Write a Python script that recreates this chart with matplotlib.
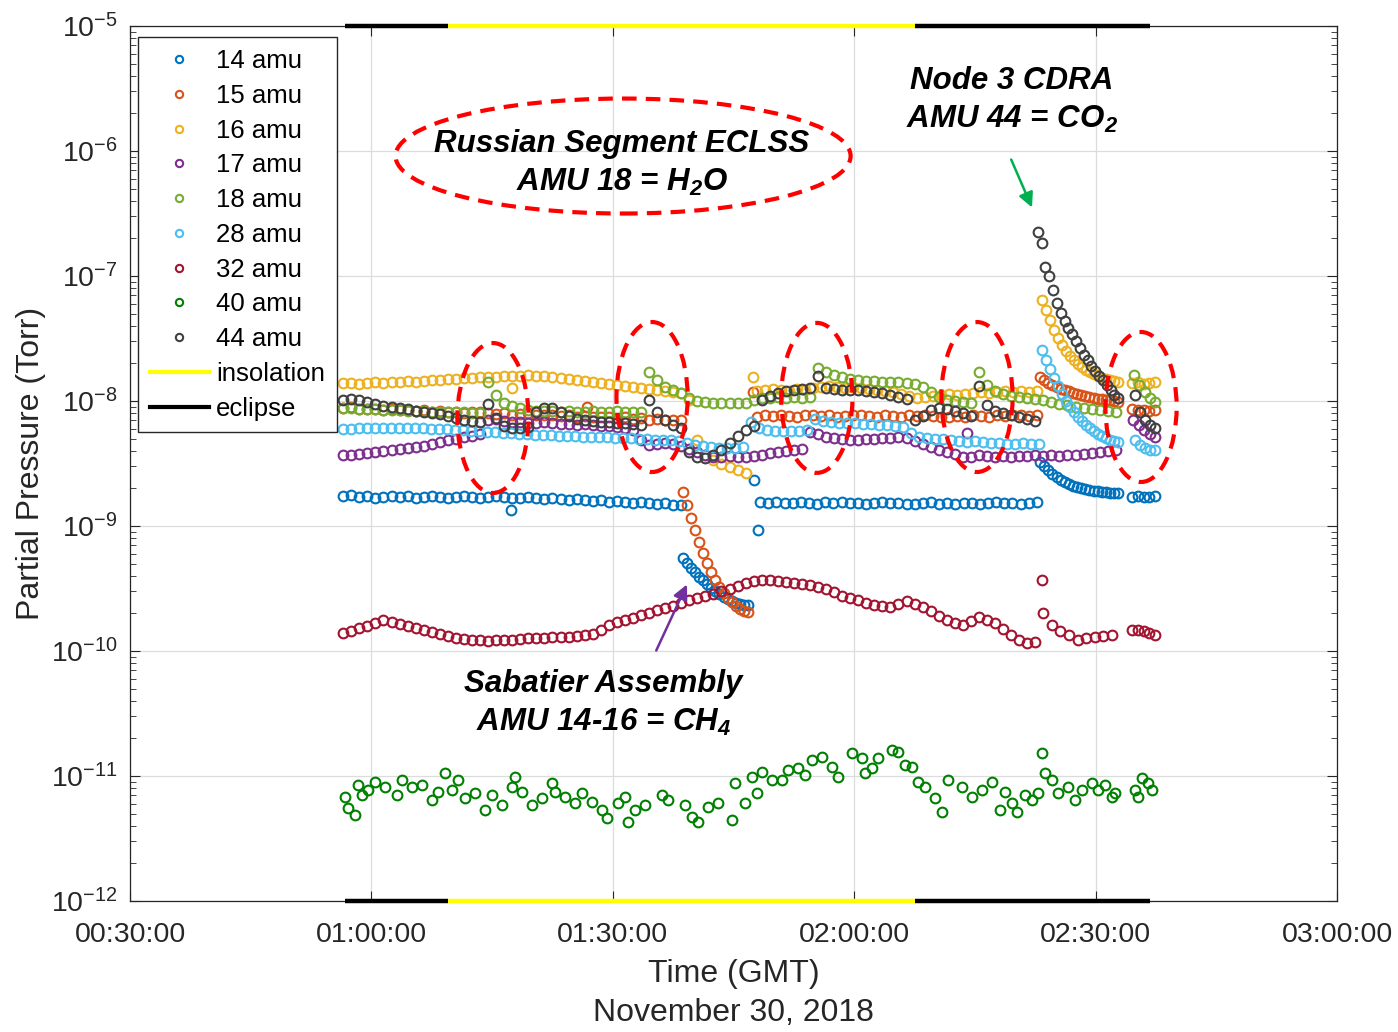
import numpy as np
import matplotlib.pyplot as plt
from matplotlib.patches import Ellipse
from matplotlib.lines import Line2D
from matplotlib.ticker import LogLocator, NullFormatter, FixedLocator

plt.rcParams['font.family'] = ['Liberation Sans', 'DejaVu Sans']
plt.rcParams['mathtext.fontset'] = 'custom'
plt.rcParams['mathtext.rm'] = 'Liberation Sans'
plt.rcParams['mathtext.bf'] = 'Liberation Sans:bold:italic'

# time in minutes after 00:00 GMT, pressure in Torr
# each series: list of (first sample time, last sample time, values)
amu14 = [
    (56.5, 98.5, np.array([1.74, 1.76, 1.71, 1.74, 1.68, 1.72, 1.75, 1.71, 1.73, 1.68,
                           1.71, 1.74, 1.70, 1.67, 1.71, 1.74, 1.70, 1.67, 1.71, 1.73,
                           1.70, 1.67, 1.68, 1.71, 1.67, 1.64, 1.67, 1.64, 1.61, 1.64,
                           1.61, 1.58, 1.61, 1.56, 1.59, 1.56, 1.53, 1.56, 1.53, 1.50,
                           1.53, 1.48, 1.47]) * 1e-9),
    (98.7, 106.8, np.array([0.555, 0.506, 0.461, 0.429, 0.391, 0.370, 0.344, 0.319, 0.302,
                            0.286, 0.270, 0.261, 0.251, 0.242, 0.238, 0.233, 0.233]) * 1e-9),
    (108.3, 142.7, np.array([1.56, 1.53, 1.55, 1.52, 1.54, 1.57, 1.53, 1.51, 1.55, 1.53,
                             1.56, 1.52, 1.54, 1.50, 1.53, 1.56, 1.52, 1.54, 1.51, 1.49,
                             1.52, 1.55, 1.51, 1.53, 1.50, 1.52, 1.54, 1.51, 1.53, 1.55,
                             1.52, 1.54, 1.51, 1.53, 1.55]) * 1e-9),
    (143.1, 152.8, np.array([3.25, 3.02, 2.81, 2.61, 2.47, 2.33, 2.25, 2.17, 2.09, 2.05,
                             2.01, 1.98, 1.94, 1.91, 1.91, 1.87, 1.87, 1.84, 1.84, 1.84]) * 1e-9),
    (154.5, 157.4, np.array([1.71, 1.73, 1.70, 1.72, 1.74]) * 1e-9),
]
amu14_spikes = [(77.3, 1.34e-9), (107.6, 2.33e-9), (108.0, 0.93e-9)]

amu15 = [
    (56.5, 98.5, np.array([8.8, 8.9, 8.7, 8.6, 8.7, 8.5, 8.6, 8.4, 8.5, 8.3,
                           8.4, 8.2, 8.3, 8.1, 8.2, 8.0, 8.1, 8.2, 8.0, 7.9,
                           8.0, 7.8, 7.9, 8.0, 7.8, 7.7, 7.8, 7.6, 7.7, 7.5,
                           7.6, 7.5, 7.4, 7.5, 7.3, 7.4, 7.2, 7.3, 7.1, 7.2,
                           7.0, 7.1, 7.0]) * 1e-9),
    (98.7, 106.8, np.array([1.87, 1.47, 1.16, 0.929, 0.745, 0.608, 0.506, 0.429, 0.370,
                            0.325, 0.291, 0.265, 0.247, 0.229, 0.217, 0.209, 0.205]) * 1e-9),
    (107.9, 142.7, np.array([7.5, 7.7, 7.6, 7.8, 7.6, 7.5, 7.7, 7.8, 7.6, 7.7,
                             7.5, 7.6, 7.8, 7.7, 7.6, 7.5, 7.7, 7.6, 7.5, 7.7,
                             7.6, 7.8, 7.6, 7.5, 7.4, 7.6, 7.5, 7.7, 7.6, 7.5,
                             7.7, 7.6, 7.8, 7.7, 7.6, 7.8]) * 1e-9),
    (143.1, 152.8, np.array([15.6, 14.7, 13.9, 13.4, 12.9, 12.5, 12.2, 12.0, 11.6, 11.4,
                             11.2, 11.0, 10.8, 10.6, 10.4, 10.4, 10.2, 10.2, 10.0, 9.8]) * 1e-9),
    (154.5, 157.4, np.array([8.6, 8.4, 8.5, 8.3, 8.5]) * 1e-9),
]
amu15_spikes = [(86.8, 8.95e-9), (107.4, 11.8e-9)]

amu16 = [
    (56.5, 106.5, np.array([13.9, 13.9, 13.7, 13.9, 14.2, 13.9, 14.2, 14.2, 14.5, 14.2,
                            14.5, 14.7, 14.7, 15.0, 15.0, 15.3, 15.3, 15.6, 15.6, 15.6,
                            15.8, 15.8, 15.8, 16.1, 15.8, 15.8, 15.6, 15.3, 15.0, 14.7,
                            14.5, 14.2, 13.9, 13.7, 13.4, 13.2, 12.9, 12.7, 12.5, 12.2,
                            12.0, 11.8, 11.6, 10.2, 4.88, 3.70, 3.37, 3.13, 2.96, 2.81,
                            2.65]) * 1e-9),
    (107.9, 142.7, np.array([12.0, 12.2, 12.5, 12.2, 12.0, 12.5, 12.2, 12.7, 12.9, 13.2,
                             12.9, 12.7, 12.9, 12.7, 12.5, 12.2, 12.0, 11.8, 11.4, 11.0,
                             10.6, 10.8, 11.0, 11.2, 11.4, 11.2, 11.4, 11.6, 11.8, 11.6,
                             11.8, 12.0, 11.8, 12.0, 11.8, 12.0]) * 1e-9),
    (143.3, 152.8, np.array([64.3, 53.5, 44.5, 37.0, 31.9, 28.1, 25.1, 22.9, 21.3, 19.8,
                             18.7, 17.7, 17.1, 16.4, 15.8, 15.3, 15.0, 14.7, 14.5, 14.2]) * 1e-9),
    (154.5, 157.4, np.array([13.9, 14.2, 13.7, 13.9, 14.2]) * 1e-9),
]
amu16_spikes = [(77.5, 12.7e-9), (107.4, 15.6e-9)]

amu17 = [
    (56.5, 152.5, np.array([3.70, 3.70, 3.77, 3.84, 3.91, 3.98, 4.06, 4.13, 4.21, 4.29,
                            4.37, 4.53, 4.70, 4.88, 4.97, 5.15, 5.25, 5.45, 7.05, 7.18,
                            6.92, 6.79, 6.79, 6.67, 6.67, 6.79, 6.67, 6.55, 6.55, 6.43,
                            6.55, 6.43, 6.31, 6.31, 6.19, 6.08, 5.86, 4.88, 4.45, 4.53,
                            4.61, 4.53, 4.37, 4.13, 3.91, 3.70, 3.56, 3.56, 3.63, 3.56,
                            3.56, 3.63, 3.70, 3.84, 3.91, 3.98, 4.06, 4.13, 5.65, 5.45,
                            5.15, 5.06, 4.97, 4.88, 4.88, 4.97, 4.97, 5.06, 5.06, 5.15,
                            5.06, 4.79, 4.53, 4.29, 4.06, 3.91, 3.77, 3.56, 3.56, 3.70,
                            3.63, 3.56, 3.63, 3.56, 3.63, 3.63, 3.70, 3.63, 3.70, 3.63,
                            3.70, 3.70, 3.77, 3.84, 3.91, 3.98, 4.06]) * 1e-9),
    (154.7, 157.4, np.array([7.05, 6.43, 5.86, 5.45, 5.15]) * 1e-9),
]
amu17_spikes = [(134.0, 5.55e-9)]

amu18 = [
    (56.5, 152.5, np.array([8.79, 8.79, 8.63, 8.63, 8.63, 8.47, 8.47, 8.47, 8.32, 8.32,
                            8.32, 8.17, 8.17, 8.17, 8.17, 8.17, 8.02, 8.02, 14.2, 11.2,
                            9.64, 9.12, 8.79, 8.47, 8.32, 8.32, 8.32, 8.17, 8.32, 8.17,
                            8.17, 8.32, 8.17, 8.17, 8.32, 8.17, 8.17, 8.17, 17.1, 14.7,
                            12.9, 12.2, 11.6, 10.6, 10.0, 9.8, 9.64, 9.64, 9.64, 9.64,
                            9.64, 10.2, 10.6, 10.6, 10.8, 10.6, 10.8, 10.6, 10.8, 18.4,
                            17.1, 16.1, 15.6, 15.0, 14.7, 14.5, 14.5, 14.2, 14.2, 14.2,
                            13.9, 13.7, 12.9, 11.8, 10.8, 10.2, 10.0, 9.8, 9.64, 17.1,
                            13.4, 12.0, 11.4, 11.0, 10.8, 10.6, 10.4, 10.2, 9.8, 9.46,
                            9.29, 8.95, 8.79, 8.63, 8.47, 8.32, 8.17]) * 1e-9),
    (154.8, 157.4, np.array([16.1, 13.4, 11.8, 10.6, 9.8]) * 1e-9),
]

amu28 = [
    (56.5, 142.9, np.array([5.97, 5.97, 6.08, 6.08, 6.08, 6.08, 6.08, 6.08, 6.08, 6.08,
                            6.08, 5.97, 5.97, 5.97, 5.86, 5.86, 5.75, 5.75, 5.65, 5.65,
                            5.55, 5.55, 5.45, 5.45, 5.35, 5.35, 5.35, 5.25, 5.25, 5.25,
                            5.15, 5.15, 5.15, 5.15, 5.06, 5.06, 5.06, 4.97, 4.97, 4.88,
                            4.88, 4.88, 4.79, 4.61, 4.45, 4.37, 4.29, 4.21, 4.21, 4.21,
                            4.29, 6.79, 6.08, 5.86, 5.75, 5.75, 5.75, 5.75, 5.86, 7.18,
                            6.92, 6.79, 6.67, 6.67, 6.67, 6.55, 6.55, 6.43, 6.43, 6.31,
                            6.19, 5.55, 5.15, 5.06, 4.97, 4.97, 4.88, 4.79, 4.70, 4.79,
                            4.70, 4.61, 4.61, 4.53, 4.53, 4.61, 4.53, 4.53]) * 1e-9),
    (143.3, 152.8, np.array([25.6, 21.3, 18.0, 15.3, 13.2, 11.4, 10.0, 8.95, 8.17, 7.45,
                             6.92, 6.43, 6.08, 5.75, 5.45, 5.25, 5.06, 4.88, 4.79, 4.70]) * 1e-9),
    (154.9, 157.4, np.array([4.88, 4.45, 4.21, 4.06, 4.06]) * 1e-9),
]

amu32 = [
    (56.5, 142.5, np.array([1.39, 1.45, 1.53, 1.58, 1.67, 1.77, 1.71, 1.64, 1.58, 1.53,
                            1.47, 1.42, 1.37, 1.32, 1.27, 1.25, 1.22, 1.22, 1.20, 1.22,
                            1.22, 1.22, 1.25, 1.27, 1.27, 1.27, 1.29, 1.29, 1.29, 1.32,
                            1.34, 1.37, 1.47, 1.61, 1.71, 1.77, 1.84, 1.94, 2.01, 2.13,
                            2.21, 2.29, 2.42, 2.56, 2.65, 2.75, 2.86, 3.02, 3.13, 3.31,
                            3.50, 3.63, 3.70, 3.70, 3.63, 3.56, 3.50, 3.44, 3.37, 3.25,
                            3.13, 2.96, 2.75, 2.65, 2.56, 2.42, 2.33, 2.29, 2.25, 2.38,
                            2.51, 2.38, 2.25, 2.09, 1.91, 1.77, 1.67, 1.61, 1.74, 1.87,
                            1.77, 1.67, 1.50, 1.34, 1.22, 1.16, 1.18]) * 1e-10),
    (143.5, 152.0, np.array([2.01, 1.61, 1.45, 1.34, 1.22, 1.27, 1.29, 1.32, 1.34]) * 1e-10),
    (154.5, 157.4, np.array([1.47, 1.47, 1.45, 1.39, 1.34]) * 1e-10),
]
amu32_spikes = [(143.3, 3.70e-10)]

amu40_t = [56.7, 57.1, 58.0, 58.3, 58.8, 59.6, 60.5, 61.7, 63.2, 63.8,
           65.0, 66.3, 67.5, 68.3, 69.2, 70.0, 70.8, 71.6, 72.9, 74.1,
           75.0, 76.2, 77.5, 77.8, 78.7, 80.0, 81.2, 82.4, 82.8, 84.1,
           85.3, 86.2, 87.4, 88.7, 89.3, 90.6, 91.5, 91.9, 92.8, 94.0,
           96.1, 96.9, 99.0, 99.8, 100.6, 101.8, 103.1, 104.8, 105.2, 106.4,
           107.3, 107.9, 108.5, 109.8, 111.0, 111.8, 113.0, 113.9, 114.8, 116.0,
           117.2, 118.0, 119.7, 121.0, 121.3, 122.2, 123.0, 124.7, 125.4, 126.3,
           127.2, 127.9, 128.8, 130.0, 130.9, 131.7, 133.4, 134.6, 135.9, 137.1,
           138.1, 138.7, 139.6, 140.2, 141.2, 142.1, 142.8, 143.3, 143.7, 144.6,
           145.3, 146.6, 147.4, 148.3, 149.6, 150.3, 151.2, 152.0, 152.4,
           154.9, 155.3, 155.8, 156.5, 157.0]
amu40_p = np.array([6.79, 5.55, 4.88, 8.47, 7.05, 7.73, 8.95, 8.17, 7.05, 9.29,
                    8.17, 8.47, 6.43, 7.45, 10.6, 7.73, 9.29, 6.67, 7.31, 5.35,
                    7.05, 5.86, 8.17, 9.8, 7.45, 5.86, 6.67, 8.79, 7.45, 6.79,
                    6.08, 7.31, 6.19, 5.35, 4.61, 6.08, 6.79, 4.29, 5.35, 5.86,
                    7.05, 6.43, 5.86, 4.70, 4.29, 5.65, 6.08, 4.45, 8.79, 6.08,
                    9.8, 7.31, 10.8, 9.29, 9.29, 11.2, 11.6, 10.2, 13.4, 14.2,
                    11.8, 9.8, 15.3, 13.9, 10.6, 11.6, 13.9, 16.1, 15.6, 12.2,
                    11.8, 8.95, 8.17, 6.67, 5.15, 9.29, 8.17, 6.79, 7.73, 8.95,
                    5.35, 7.45, 6.08, 5.15, 7.05, 6.43, 7.31, 15.3, 10.6, 9.29,
                    7.31, 8.17, 6.43, 7.73, 8.79, 7.73, 8.47, 6.79, 7.31,
                    7.73, 6.79, 9.64, 8.79, 7.73]) * 1e-12

amu44 = [
    (56.5, 142.5, np.array([10.2, 10.4, 10.2, 9.8, 9.46, 9.12, 8.95, 8.79, 8.63, 8.32,
                            8.17, 8.02, 7.87, 7.59, 7.31, 7.05, 6.92, 6.79, 9.46, 7.31,
                            6.31, 6.08, 6.08, 6.19, 8.17, 8.79, 8.79, 8.17, 7.59, 7.18,
                            7.05, 6.92, 6.79, 6.79, 6.67, 6.67, 6.55, 6.43, 10.2, 8.17,
                            7.05, 6.43, 6.08, 3.91, 3.56, 3.50, 3.70, 4.06, 4.61, 5.25,
                            5.86, 6.31, 10.2, 11.0, 11.6, 12.0, 12.2, 12.5, 12.7, 15.8,
                            12.7, 12.5, 12.2, 12.2, 12.2, 12.0, 11.8, 11.6, 11.2, 10.8,
                            10.4, 7.05, 7.59, 8.47, 8.79, 8.63, 8.32, 8.02, 7.59, 13.2,
                            9.29, 8.32, 8.02, 7.73, 7.45, 7.18, 6.92]) * 1e-9),
    (142.8, 152.8, np.array([225, 184, 118, 100, 77.3, 60.8, 50.6, 43.7, 38.4, 34.4,
                             30.2, 26.5, 23.3, 21.3, 19.1, 17.4, 15.8, 14.7, 13.4, 12.2,
                             11.2, 10.6]) * 1e-9),
    (154.9, 157.4, np.array([11.2, 8.17, 7.05, 6.43, 6.08]) * 1e-9),
]

# insolation / eclipse periods (minutes)
light_edges = [56.7, 69.5, 127.5, 156.8]
light_state = ['eclipse', 'insolation', 'eclipse']

xticks = [30, 60, 90, 120, 150, 180]
xtick_labels = ['00:30:00', '01:00:00', '01:30:00', '02:00:00', '02:30:00', '03:00:00']

series = [
    ('14 amu', '#0072BD', amu14, amu14_spikes),
    ('15 amu', '#D95319', amu15, amu15_spikes),
    ('16 amu', '#EDB120', amu16, amu16_spikes),
    ('17 amu', '#7E2F8E', amu17, amu17_spikes),
    ('18 amu', '#77AC30', amu18, []),
    ('28 amu', '#4DBEEE', amu28, []),
    ('32 amu', '#A2142F', amu32, amu32_spikes),
    ('40 amu', '#008000', None, []),
    ('44 amu', '#404040', amu44, []),
]

fig = plt.figure(figsize=(13.98, 10.32), dpi=100)
ax = fig.add_axes([0.093, 0.1269, 0.8634, 0.8479])

handles = []
for label, color, segs, spikes in series:
    if segs is None:
        tt, pp = list(amu40_t), list(amu40_p)
    else:
        tt, pp = [], []
        for t0, t1, vals in segs:
            tt.extend(np.linspace(t0, t1, len(vals)))
            pp.extend(vals)
    for t, p in spikes:
        tt.append(t)
        pp.append(p)
    h, = ax.plot(tt, pp, ls='none', marker='o', ms=7, mfc='none',
                 mec=color, mew=1.5, label=label)
    handles.append(h)

state_color = {'insolation': '#FFFF00', 'eclipse': 'black'}
for i, st in enumerate(light_state):
    for yv in (1e-5, 1e-12):
        ax.plot(light_edges[i:i + 2], [yv, yv], color=state_color[st], lw=3.2,
                solid_capstyle='butt', clip_on=False, zorder=5)
handles.append(Line2D([], [], color='#FFFF00', lw=3, label='insolation'))
handles.append(Line2D([], [], color='black', lw=3, label='eclipse'))

ax.set_yscale('log')
ax.set_xlim(30, 180)
ax.set_ylim(1e-12, 1e-5)
ax.xaxis.set_major_locator(FixedLocator(xticks))
ax.set_xticklabels(xtick_labels)
ax.yaxis.set_major_locator(LogLocator(base=10, numticks=12))
ax.yaxis.set_minor_locator(LogLocator(base=10, subs=np.arange(2, 10), numticks=12))
ax.yaxis.set_minor_formatter(NullFormatter())
ax.grid(True, which='major', color='#DCDCDC', lw=0.9)
ax.set_axisbelow(True)
ax.tick_params(which='both', direction='in', top=True, right=True, colors='#262626',
               labelsize=20.5)
ax.tick_params(axis='x', which='major', length=7, pad=15)
ax.tick_params(axis='y', which='major', length=7, pad=9)
ax.tick_params(axis='y', which='minor', length=4)
for sp in ax.spines.values():
    sp.set_color('#262626')
    sp.set_linewidth(0.9)

ax.set_ylabel('Partial Pressure (Torr)', fontsize=23, color='#262626', labelpad=3)
ax.set_xlabel('Time (GMT)\nNovember 30, 2018', fontsize=23, color='#262626',
              labelpad=8, linespacing=1.4)

leg = ax.legend(handles=handles, loc='upper left', bbox_to_anchor=(0.0066, 0.987),
                borderaxespad=0, fontsize=18.5, frameon=True, fancybox=False,
                framealpha=1, edgecolor='#262626', handlelength=2.3,
                handletextpad=0.3, labelspacing=0.42, borderpad=0.45, numpoints=1,
                markerscale=0.75)
leg.get_frame().set_linewidth(1.0)

# dashed red ellipses (axes fraction)
ax.add_patch(Ellipse((0.4085, 0.8514), 0.377, 0.1314, transform=ax.transAxes,
                     fill=False, ec='red', lw=3, ls=(0, (3.5, 2.2)), zorder=6))
for cx, cy in [(0.3007, 0.552), (0.4325, 0.576), (0.569, 0.575),
               (0.7017, 0.576), (0.8376, 0.5646)]:
    ax.add_patch(Ellipse((cx, cy), 0.059, 0.1714, transform=ax.transAxes,
                         fill=False, ec='red', lw=3, ls=(0, (3.5, 2.2)), zorder=6))

txt = dict(transform=ax.transAxes, ha='center', va='center', fontsize=22.5,
           fontweight='bold', style='italic', color='black', linespacing=1.35,
           zorder=7)
ax.text(0.4077, 0.843, 'Russian Segment ECLSS\nAMU 18 = H$_{\\mathbf{2}}$O', **txt)
ax.text(0.7307, 0.915, 'Node 3 CDRA\nAMU 44 = CO$_{\\mathbf{2}}$', **txt)
ax.text(0.392, 0.226, 'Sabatier Assembly\nAMU 14-16 = CH$_{\\mathbf{4}}$', **txt)

ax.annotate('', xy=(0.7482, 0.7897), xytext=(0.7291, 0.8503), xycoords='axes fraction',
            arrowprops=dict(arrowstyle='-|>', color='#00B050', lw=1.8, mutation_scale=22))
ax.annotate('', xy=(0.4623, 0.3646), xytext=(0.435, 0.2834), xycoords='axes fraction',
            arrowprops=dict(arrowstyle='-|>', color='#7030A0', lw=1.8, mutation_scale=22))

fig.savefig('out.png', dpi=100)
